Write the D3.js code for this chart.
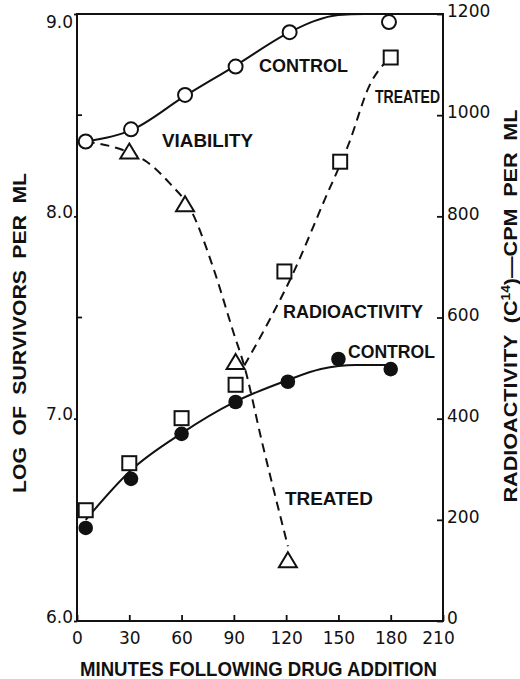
<!DOCTYPE html>
<html>
<head>
<meta charset="utf-8">
<script src="https://cdn.jsdelivr.net/npm/d3@7"></script>
<style>
body { margin: 0; background: #fff; }
svg { display: block; }
</style>
</head>
<body>
<div id="chart"></div>
<script>
// ---- viability, left axis (log of survivors per ml) ----
var viabilityControlMin = [5, 31, 62, 91, 122, 179];
var viabilityControlLog = [8.37, 8.43, 8.60, 8.74, 8.91, 8.96];
var viabilityTreatedMin = [30, 62, 91, 121];
var viabilityTreatedLog = [8.32, 8.06, 7.28, 6.30];

// ---- radioactivity, right axis (C14 cpm per ml) ----
var radioControlMin = [5, 31, 60, 91, 121, 150, 180];
var radioControlCpm = [184, 281, 370, 433, 473, 518, 498];
var radioTreatedMin = [5, 30, 60, 91, 119, 151, 180];
var radioTreatedCpm = [219, 312, 401, 467, 691, 908, 1114];

// hand drawn curves [minutes, value]
var viabilityControlCurve = [[5, 8.37], [31, 8.425], [62, 8.595], [91, 8.745], [122, 8.91], [136, 8.965], [150, 8.995], [165, 9.0], [180, 9.0]];
var viabilityTreatedCurve = [[5, 8.37], [30, 8.315], [40, 8.27], [53, 8.165], [66, 8.02], [78, 7.75], [90, 7.42], [96, 7.26], [106, 6.89], [121, 6.37]];
var radioControlCurve = [[5, 200], [31, 298], [60, 371], [90, 432], [120, 475], [140, 498], [160, 506], [180, 506]];
var radioTreatedCurve = [[96, 505], [110, 592], [123, 680], [142, 832], [156, 944], [168, 1060], [177, 1105]];

// ---- ticks ----
var xTicks = [0, 30, 60, 90, 120, 150, 180, 210];
var leftTicks = [6, 7, 8, 9];
var leftMinorTicks = [7.5, 8.5];
var rightTicks = [0, 200, 400, 600, 800, 1000, 1200];

var W = 520, H = 679;
var plot = {left: 77, right: 443, top: 14, bottom: 621};
var ink = "#111";

var x = d3.scaleLinear().domain([0, 210]).range([plot.left, plot.right]);
var yL = d3.scaleLinear().domain([6, 9]).range([plot.bottom, plot.top]);
var yR = d3.scaleLinear().domain([0, 1200]).range([plot.bottom, plot.top]);

var svg = d3.select("#chart").append("svg")
	.attr("width", W)
	.attr("height", H)
	.style("font-family", "'DejaVu Sans', sans-serif");

//////////////////// axes ////////////////////

var gx = svg.append("g")
	.attr("transform", "translate(0," + plot.bottom + ")")
	.call(d3.axisBottom(x).tickValues(xTicks).tickSizeInner(-6).tickSizeOuter(0).tickPadding(11));

var gl = svg.append("g")
	.attr("transform", "translate(" + plot.left + ",0)")
	.call(d3.axisLeft(yL).tickValues(leftTicks).tickFormat(d3.format(".1f")).tickSizeInner(3).tickSizeOuter(0).tickPadding(1));

var gr = svg.append("g")
	.attr("transform", "translate(" + plot.right + ",0)")
	.call(d3.axisRight(yR).tickValues(rightTicks).tickFormat(d3.format("d")).tickSizeInner(-6).tickSizeOuter(0).tickPadding(4));

[gx, gl, gr].forEach(function(g) {
	g.select(".domain").remove();
	g.selectAll("line").attr("stroke", ink).attr("stroke-width", 1.8);
	g.selectAll("text").attr("fill", ink).style("font-size", "17px").style("font-family", "'DejaVu Sans', sans-serif");
});

// left labels sit just above their tick, the top one hangs below
gl.selectAll("text")
	.attr("dy", null)
	.attr("y", function(d) { return d === 9 ? 13 : 1; });

gr.selectAll("text").attr("dy", "0.16em");

// the last minute label is pulled in a little, as in the figure
gx.selectAll("text").attr("dx", function(d) { return d === 210 ? -5 : 0; });

// minor ticks on the left axis
svg.append("g").selectAll("line")
	.data(leftMinorTicks)
	.enter().append("line")
	.attr("x1", plot.left).attr("x2", plot.left + 5)
	.attr("y1", function(d) { return yL(d); })
	.attr("y2", function(d) { return yL(d); })
	.attr("stroke", ink).attr("stroke-width", 1.8);

// frame
svg.append("rect")
	.attr("x", plot.left).attr("y", plot.top)
	.attr("width", plot.right - plot.left)
	.attr("height", plot.bottom - plot.top)
	.attr("fill", "none")
	.attr("stroke", ink)
	.attr("stroke-width", 2);

//////////////////// curves ////////////////////

function curve(yScale) {
	return d3.line()
		.x(function(d) { return x(d[0]); })
		.y(function(d) { return yScale(d[1]); })
		.curve(d3.curveMonotoneX);
}

var curves = [
	{pts: viabilityControlCurve, y: yL, dash: null},
	{pts: viabilityTreatedCurve, y: yL, dash: "9,6"},
	{pts: radioControlCurve, y: yR, dash: null},
	{pts: radioTreatedCurve, y: yR, dash: "9,6"}
];

svg.append("g").selectAll("path")
	.data(curves)
	.enter().append("path")
	.attr("d", function(c) { return curve(c.y)(c.pts); })
	.attr("fill", "none")
	.attr("stroke", ink)
	.attr("stroke-width", 2)
	.attr("stroke-dasharray", function(c) { return c.dash; });

//////////////////// markers ////////////////////

function pairs(xs, ys) { return xs.map(function(v, i) { return [v, ys[i]]; }); }

// open circles: viability control
svg.append("g").selectAll("circle")
	.data(pairs(viabilityControlMin, viabilityControlLog))
	.enter().append("circle")
	.attr("cx", function(d) { return x(d[0]); })
	.attr("cy", function(d) { return yL(d[1]); })
	.attr("r", 7)
	.attr("fill", "#fff").attr("stroke", ink).attr("stroke-width", 2);

// open triangles: viability treated
svg.append("g").selectAll("path")
	.data(pairs(viabilityTreatedMin, viabilityTreatedLog))
	.enter().append("path")
	.attr("transform", function(d) { return "translate(" + x(d[0]) + "," + yL(d[1]) + ")"; })
	.attr("d", "M0,-8L9,7L-9,7Z")
	.attr("fill", "#fff").attr("stroke", ink).attr("stroke-width", 2)
	.attr("stroke-linejoin", "miter");

// open squares: radioactivity treated
svg.append("g").selectAll("rect")
	.data(pairs(radioTreatedMin, radioTreatedCpm))
	.enter().append("rect")
	.attr("x", function(d) { return x(d[0]) - 7; })
	.attr("y", function(d) { return yR(d[1]) - 7; })
	.attr("width", 14).attr("height", 14)
	.attr("fill", "#fff").attr("stroke", ink).attr("stroke-width", 2);

// filled circles: radioactivity control
svg.append("g").selectAll("circle")
	.data(pairs(radioControlMin, radioControlCpm))
	.enter().append("circle")
	.attr("cx", function(d) { return x(d[0]); })
	.attr("cy", function(d) { return yR(d[1]); })
	.attr("r", 7.3)
	.attr("fill", ink);

//////////////////// labels ////////////////////

// [text, minutes at left edge, left-axis value at baseline, width]
var notes = [
	["CONTROL", 104.4, 8.713, 89],
	["VIABILITY", 48.8, 8.343, 91],
	["TREATED", 171, 8.56, 65],
	["RADIOACTIVITY", 118.2, 7.497, 140],
	["CONTROL", 155.5, 7.30, 87],
	["TREATED", 119.3, 6.573, 88]
];

svg.append("g").selectAll("text")
	.data(notes)
	.enter().append("text")
	.attr("x", function(d) { return x(d[1]); })
	.attr("y", function(d) { return yL(d[2]); })
	.attr("textLength", function(d) { return d[3]; })
	.attr("lengthAdjust", "spacingAndGlyphs")
	.style("font-family", "'Liberation Sans', Arial, sans-serif")
	.style("font-weight", "bold")
	.style("font-size", "19px")
	.attr("fill", ink)
	.text(function(d) { return d[0]; });

var titleFont = "'Liberation Sans', Arial, sans-serif";

svg.append("text")
	.attr("x", 80).attr("y", 676)
	.attr("textLength", 357).attr("lengthAdjust", "spacingAndGlyphs")
	.style("font-family", titleFont).style("font-weight", "bold").style("font-size", "20px")
	.attr("fill", ink)
	.text("MINUTES FOLLOWING DRUG ADDITION");

svg.append("text")
	.attr("transform", "translate(26,333) rotate(-90)")
	.attr("text-anchor", "middle")
	.attr("textLength", 320).attr("lengthAdjust", "spacingAndGlyphs")
	.style("font-family", titleFont).style("font-weight", "bold").style("font-size", "19px")
	.style("word-spacing", "5px")
	.attr("fill", ink)
	.text("LOG OF SURVIVORS PER ML");

var rt = svg.append("text")
	.attr("transform", "translate(517,306) rotate(-90)")
	.attr("text-anchor", "middle")
	.attr("textLength", 393).attr("lengthAdjust", "spacingAndGlyphs")
	.style("font-family", titleFont).style("font-weight", "bold").style("font-size", "19px")
	.style("word-spacing", "5px")
	.attr("fill", ink);
rt.append("tspan").text("RADIOACTIVITY (C");
rt.append("tspan").attr("dy", -7).style("font-size", "12px").text("14");
rt.append("tspan").attr("dy", 7).text(")\u2014CPM PER ML");
</script>
</body>
</html>
